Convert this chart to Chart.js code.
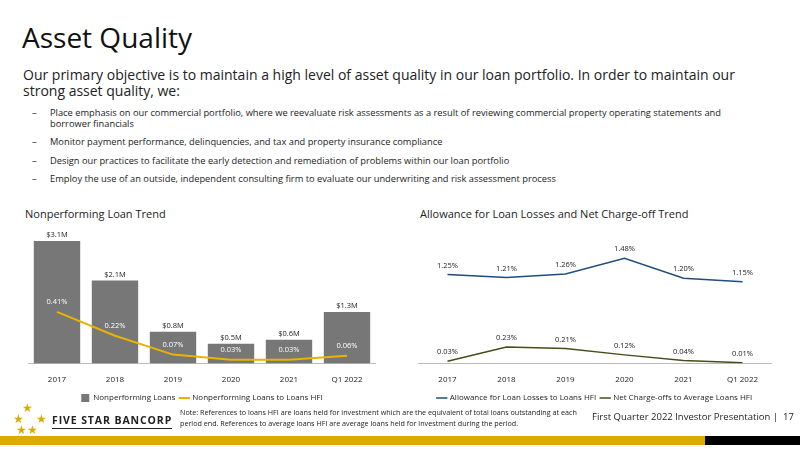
<!DOCTYPE html>
<html lang="en">
<head>
<meta charset="UTF-8">
<title>Asset Quality</title>
<style>
    body { margin: 0; width: 800px; height: 449px; position: relative; overflow: hidden; background: #fff; font-family: "Open Sans", "Liberation Sans", sans-serif; color: #222; }
    .abs { position: absolute; }
    h1 { position: absolute; left: 22px; top: 18px; margin: 0; font-weight: 400; font-size: 28px; color: #111; }
    .intro { left: 23px; top: 67px; width: 735px; font-size: 14px; line-height: 16px; }
    ul { position: absolute; left: 32px; top: 108px; margin: 0; padding: 0; list-style: none; font-size: 9.3px; line-height: 10.5px; width: 722px; }
    ul li { padding-left: 18px; text-indent: -18px; margin-bottom: 8px; }
    ul li::before { content: "–"; display: inline-block; width: 18px; text-indent: 0; }
    .sec { font-size: 11px; top: 206px; }
    .chartbox { position: absolute; }
    .note { left: 180px; top: 407px; font-size: 7.2px; line-height: 11px; width: 400px; }
    .pres { left: 592px; top: 410px; font-size: 9.5px; }
    .gold { left: 0; top: 436px; width: 705px; height: 9px; background: #dcab00; }
    .black { left: 705px; top: 436px; width: 95px; height: 9px; background: #000; }
    .logo { left: 52px; top: 413px; font-weight: 700; font-size: 10.5px; letter-spacing: 0.9px; border-bottom: 1px solid #222; padding-bottom: 1px; }
    .stars { left: 13px; top: 402px; color: #dcab00; font-size: 12px; line-height: 11px; }
</style>
</head>
<body>
<h1>Asset Quality</h1>
<div class="abs intro">Our primary objective is to maintain a high level of asset quality in our loan portfolio. In order to maintain our strong asset quality, we:</div>
<ul>
    <li>Place emphasis on our commercial portfolio, where we reevaluate risk assessments as a result of reviewing commercial property operating statements and borrower financials</li>
    <li>Monitor payment performance, delinquencies, and tax and property insurance compliance</li>
    <li>Design our practices to facilitate the early detection and remediation of problems within our loan portfolio</li>
    <li>Employ the use of an outside, independent consulting firm to evaluate our underwriting and risk assessment process</li>
</ul>
<div class="abs sec" style="left:25px">Nonperforming Loan Trend</div>
<div class="abs sec" style="left:420px">Allowance for Loan Losses and Net Charge-off Trend</div>
<div class="chartbox" style="left:28px;top:220px;width:348px;height:192px"><canvas id="npl"></canvas></div>
<div class="chartbox" style="left:418px;top:220px;width:354px;height:192px"><canvas id="allow"></canvas></div>
<div class="abs stars">&nbsp;&nbsp;&nbsp;★<br>★&nbsp;&nbsp;&nbsp;&nbsp;★<br>&nbsp;★★</div>
<div class="abs logo">FIVE STAR BANCORP</div>
<div class="abs note">Note: References to loans HFI are loans held for investment which are the equivalent of total loans outstanding at each period end. References to average loans HFI are average loans held for investment during the period.</div>
<div class="abs pres">First Quarter 2022 Investor Presentation |&nbsp; 17</div>
<div class="abs gold"></div><div class="abs black"></div>

<script src="https://cdn.jsdelivr.net/npm/chart.js"></script>
<script>
    const years = ['2017', '2018', '2019', '2020', '2021', 'Q1 2022'];
    const nplAmount = [3.1, 2.1, 0.8, 0.5, 0.6, 1.3];
    const nplRatio = [0.41, 0.22, 0.07, 0.03, 0.03, 0.06];
    const allowanceRatio = [1.25, 1.21, 1.26, 1.48, 1.20, 1.15];
    const chargeOffRatio = [0.03, 0.23, 0.21, 0.12, 0.04, 0.01];

    Chart.defaults.font.family = '"Open Sans", "Liberation Sans", sans-serif';
    Chart.defaults.font.size = 8;
    Chart.defaults.color = '#222';

    // value labels above each point / bar
    const valueLabels = {
        id: 'valueLabels',
        afterDatasetsDraw(chart) {
            const ctx = chart.ctx;
            ctx.save();
            ctx.font = '7.5px "Open Sans", sans-serif';
            ctx.textAlign = 'center';
            chart.data.datasets.forEach((ds, i) => {
                chart.getDatasetMeta(i).data.forEach((el, j) => {
                    ctx.fillStyle = ds.labelColor || '#222';
                    ctx.fillText(ds.fmt(ds.data[j]), el.x, el.y - ds.labelGap);
                });
            });
            ctx.restore();
        }
    };

    const legendOpts = {
        position: 'bottom',
        labels: { usePointStyle: true, boxWidth: 14, boxHeight: 9, font: { size: 8 }, padding: 5,
                  sort: (a, b) => a.datasetIndex - b.datasetIndex }
    };
    const xOpts = { grid: { display: false }, border: { color: '#bbb' }, ticks: { font: { size: 8 }, padding: 4 } };

    new Chart(document.getElementById('npl'), {
        data: {
            labels: years,
            datasets: [
                { type: 'bar', label: 'Nonperforming Loans', data: nplAmount, yAxisID: 'y',
                  backgroundColor: '#777777', categoryPercentage: 1, barPercentage: 0.8, pointStyle: 'rect',
                  fmt: v => '$' + v.toFixed(1) + 'M', labelGap: 6, order: 1 },
                { type: 'line', label: 'Nonperforming Loans to Loans HFI', data: nplRatio, yAxisID: 'y1',
                  borderColor: '#e8b400', backgroundColor: '#e8b400', borderWidth: 2, pointRadius: 0, pointStyle: 'line',
                  fmt: v => v.toFixed(2) + '%', labelGap: 10, labelColor: '#fff', order: 0 }
            ]
        },
        options: {
            responsive: true, maintainAspectRatio: false, animation: false,
            layout: { padding: { top: 12 } },
            plugins: { legend: legendOpts, tooltip: { enabled: false } },
            scales: {
                x: xOpts,
                y: { display: false, min: 0, max: 3.33 },
                y1: { display: false, min: 0, max: 1.045 }
            }
        },
        plugins: [valueLabels]
    });

    new Chart(document.getElementById('allow'), {
        type: 'line',
        data: {
            labels: years,
            datasets: [
                { label: 'Allowance for Loan Losses to Loans HFI', data: allowanceRatio,
                  borderColor: '#1f4e79', backgroundColor: '#1f4e79', borderWidth: 1.5, pointRadius: 0, pointStyle: 'line',
                  fmt: v => v.toFixed(2) + '%', labelGap: 9 },
                { label: 'Net Charge-offs to Average Loans HFI', data: chargeOffRatio,
                  borderColor: '#4a4a1a', backgroundColor: '#4a4a1a', borderWidth: 1.5, pointRadius: 0, pointStyle: 'line',
                  fmt: v => v.toFixed(2) + '%', labelGap: 9 }
            ]
        },
        options: {
            responsive: true, maintainAspectRatio: false, animation: false,
            layout: { padding: { top: 12 } },
            plugins: { legend: legendOpts, tooltip: { enabled: false } },
            scales: {
                x: Object.assign({ offset: true }, xOpts),
                y: { display: false, min: 0, max: 1.85 }
            }
        },
        plugins: [valueLabels]
    });
</script>
</body>
</html>
